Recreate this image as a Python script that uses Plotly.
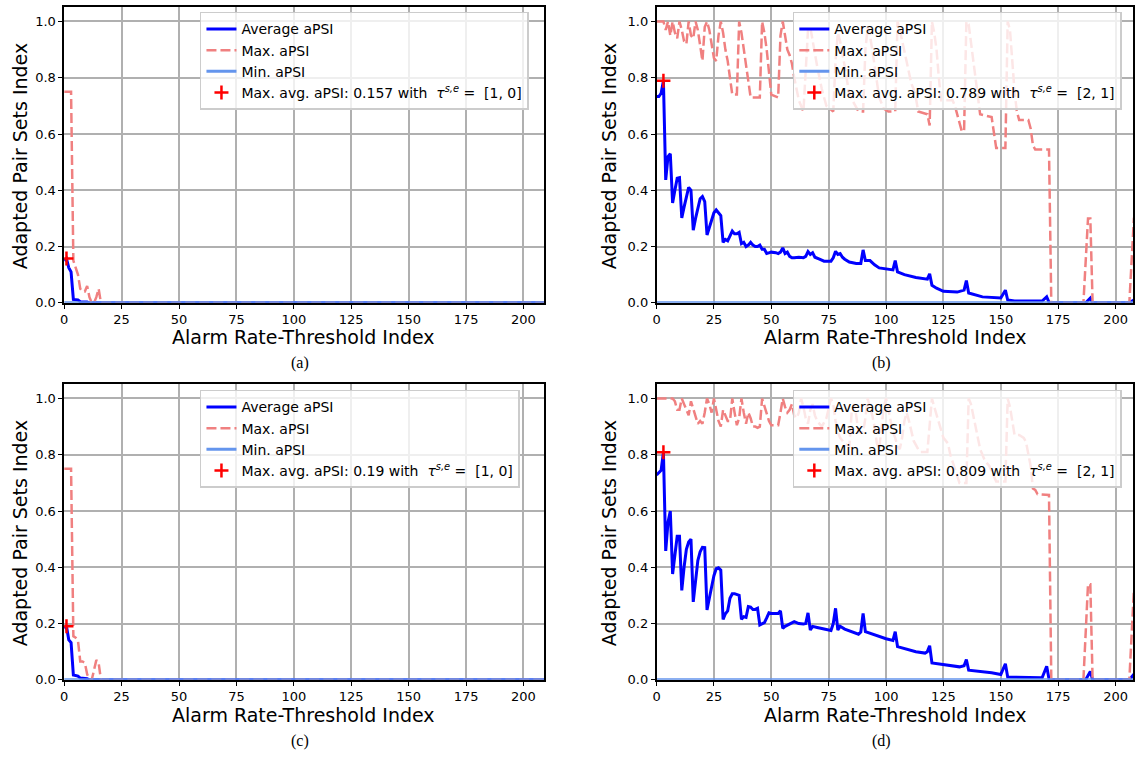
import plotly.graph_objects as go

W, H = 1135, 762

# ---------------- data ----------------
a_avg_x = [0, 1, 2, 3, 4, 5, 6, 7, 10, 11, 209]
a_avg_y = [0.15, 0.157, 0.125, 0.11, 0.012, 0.01, 0.01, 0.004, 0.003, 0.0, 0.0]
a_max_x = [0, 1, 2, 3, 4, 5, 6, 7, 8, 9, 10, 11, 12, 13, 14, 15, 16, 209]
a_max_y = [0.75, 0.75, 0.75, 0.75, 0.15, 0.12, 0.1, 0.05, 0.04, 0.04, 0.06, 0.02, 0.0, 0.0, 0.02, 0.05, 0.0, 0.0]
a_best = (1, 0.157)

c_avg_x = [0, 1, 2, 3, 4, 5, 6, 7, 10, 11, 209]
c_avg_y = [0.183, 0.19, 0.142, 0.132, 0.017, 0.015, 0.013, 0.006, 0.004, 0.0, 0.0]
c_max_x = [0, 1, 2, 3, 4, 5, 6, 7, 8, 9, 10, 11, 12, 13, 14, 15, 16, 209]
c_max_y = [0.75, 0.75, 0.75, 0.75, 0.155, 0.15, 0.14, 0.065, 0.065, 0.06, 0.02, 0.0, 0.0, 0.03, 0.07, 0.06, 0.0, 0.0]
c_best = (1, 0.19)

b_avg_x = [0, 1, 2, 3, 4, 5, 6, 7, 8, 9, 10, 11, 12, 13, 14, 15, 16, 17, 18, 19, 20, 21, 22, 23, 24,
           25, 26, 27, 28, 29, 30, 31, 32, 33, 34, 35, 36, 37, 38, 39, 40, 41, 42, 43, 44, 45, 46, 47,
           48, 49, 50, 52, 53, 54, 55, 56, 57, 58, 59, 60, 62, 64, 65, 66, 67, 68, 69, 71, 73, 76, 77,
           78, 79, 80, 81, 82, 84, 87, 89, 90, 91, 93, 95, 97, 100, 103, 104, 105, 108, 113, 118, 119,
           120, 122, 125, 131, 134, 135, 136, 139, 142, 150, 152, 153, 156, 168, 170, 171, 172, 187,
           189, 190, 206, 208, 209]
b_avg_y = [0.733, 0.733, 0.745, 0.789, 0.437, 0.52, 0.53, 0.355, 0.4, 0.443, 0.445, 0.302, 0.34, 0.38,
           0.41, 0.4, 0.258, 0.3, 0.34, 0.37, 0.378, 0.36, 0.241, 0.27, 0.29, 0.32, 0.33, 0.32, 0.31,
           0.215, 0.225, 0.22, 0.235, 0.255, 0.245, 0.245, 0.25, 0.21, 0.215, 0.2, 0.205, 0.215, 0.205,
           0.2, 0.2, 0.205, 0.19, 0.19, 0.175, 0.178, 0.18, 0.178, 0.175, 0.18, 0.195, 0.175, 0.18,
           0.165, 0.16, 0.16, 0.162, 0.16, 0.165, 0.182, 0.172, 0.178, 0.162, 0.155, 0.148, 0.148, 0.16,
           0.183, 0.172, 0.175, 0.162, 0.155, 0.145, 0.14, 0.14, 0.188, 0.15, 0.15, 0.135, 0.124, 0.12,
           0.117, 0.15, 0.11, 0.1, 0.09, 0.084, 0.103, 0.062, 0.052, 0.041, 0.038, 0.045, 0.079, 0.035,
           0.028, 0.021, 0.017, 0.045, 0.01, 0.006, 0.006, 0.021, 0.002, 0.0, 0.0, 0.017, 0.0, 0.0,
           0.01, 0.012]
b_max_x = [0, 3, 4, 5, 6, 7, 8, 9, 10, 11, 12, 13, 14, 15, 16, 17, 18, 19, 20, 21, 22, 23, 24, 25, 26,
           27, 28, 29, 30, 31, 32, 33, 35, 36, 37, 38, 39, 40, 41, 45, 46, 47, 48, 49, 50, 53, 54, 55,
           56, 57, 58, 59, 60, 61, 62, 64, 65, 66, 67, 68, 69, 70, 71, 72, 74, 77, 78, 79, 80, 81, 82,
           83, 84, 86, 88, 90, 91, 92, 93, 94, 95, 96, 97, 99, 101, 104, 105, 106, 107, 108, 109, 110,
           111, 112, 113, 114, 118, 119, 120, 121, 122, 123, 124, 129, 130, 132, 133, 134, 135, 136,
           137, 138, 139, 140, 141, 146, 147, 148, 152, 153, 154, 155, 156, 157, 158, 162, 163, 164,
           165, 171, 172, 186, 188, 189, 190, 206, 208, 209]
b_max_y = [1.0, 1.0, 0.97, 1.0, 0.95, 1.0, 0.96, 0.94, 1.0, 0.97, 0.93, 0.92, 1.0, 0.95, 0.94, 1.0,
           0.97, 0.92, 0.86, 0.98, 1.0, 0.97, 0.92, 0.87, 0.86, 0.95, 1.0, 0.96, 0.9, 0.86, 0.8, 0.74,
           0.74, 1.0, 0.96, 0.9, 0.84, 0.78, 0.73, 0.73, 1.0, 0.96, 0.9, 0.82, 0.74, 0.73, 0.95, 1.0,
           0.94, 0.9, 0.88, 0.85, 0.8, 0.76, 0.72, 0.68, 0.85, 0.97, 0.98, 0.93, 0.88, 0.84, 0.8, 0.76,
           0.7, 0.68, 0.86, 0.96, 0.93, 0.89, 0.84, 0.79, 0.74, 0.71, 0.68, 0.68, 0.9, 0.98, 0.95, 0.9,
           0.84, 0.78, 0.73, 0.69, 0.68, 0.68, 1.0, 0.97, 0.93, 0.9, 0.86, 0.82, 0.78, 0.76, 0.73, 0.68,
           0.67, 0.63, 1.0, 0.96, 0.9, 0.8, 0.72, 0.72, 0.7, 0.64, 0.61, 0.61, 1.0, 0.99, 0.93, 0.86,
           0.8, 0.74, 0.67, 0.66, 0.6, 0.55, 0.55, 1.0, 0.97, 0.85, 0.75, 0.68, 0.65, 0.65, 0.62, 0.56,
           0.545, 0.545, 0.0, 0.0, 0.3, 0.3, 0.0, 0.0, 0.3, 0.32]
b_best = (3, 0.789)

d_avg_x = [0, 1, 2, 3, 4, 5, 6, 7, 8, 9, 10, 11, 12, 13, 14, 15, 16, 17, 18, 19, 20, 21, 22, 23, 24,
           25, 26, 27, 28, 29, 30, 31, 32, 33, 34, 35, 36, 37, 38, 39, 40, 41, 42, 43, 44, 45, 46, 47,
           48, 49, 50, 52, 53, 54, 55, 56, 57, 58, 60, 62, 64, 65, 66, 67, 68, 70, 73, 76, 77, 78, 79,
           80, 82, 84, 86, 88, 89, 90, 91, 93, 96, 100, 103, 104, 105, 108, 113, 117, 118, 119, 120,
           124, 128, 132, 134, 135, 136, 142, 146, 150, 152, 153, 160, 168, 170, 171, 172, 187, 189,
           190, 206, 208, 209]
d_avg_y = [0.728, 0.735, 0.745, 0.809, 0.458, 0.56, 0.6, 0.376, 0.45, 0.51, 0.51, 0.318, 0.4, 0.464,
           0.49, 0.5, 0.277, 0.36, 0.424, 0.455, 0.471, 0.47, 0.248, 0.29, 0.33, 0.37, 0.395, 0.398,
           0.39, 0.215, 0.235, 0.245, 0.29, 0.306, 0.306, 0.302, 0.3, 0.215, 0.224, 0.222, 0.26, 0.258,
           0.25, 0.25, 0.254, 0.195, 0.2, 0.203, 0.22, 0.238, 0.236, 0.235, 0.236, 0.245, 0.183, 0.19,
           0.195, 0.2, 0.207, 0.2, 0.198, 0.2, 0.238, 0.177, 0.19, 0.186, 0.18, 0.175, 0.2, 0.254,
           0.177, 0.19, 0.18, 0.174, 0.168, 0.162, 0.17, 0.236, 0.171, 0.165, 0.156, 0.146, 0.14, 0.171,
           0.118, 0.112, 0.1, 0.095, 0.1, 0.121, 0.06, 0.055, 0.051, 0.046, 0.05, 0.072, 0.034, 0.03,
           0.025, 0.019, 0.057, 0.01, 0.008, 0.007, 0.048, 0.003, 0.0, 0.0, 0.03, 0.0, 0.0, 0.02, 0.022]
d_max_x = [0, 7, 8, 9, 10, 11, 12, 13, 14, 15, 16, 17, 18, 19, 20, 21, 22, 23, 24, 25, 26, 27, 28, 29,
           30, 31, 32, 33, 34, 35, 36, 37, 38, 39, 40, 41, 42, 43, 44, 45, 46, 47, 48, 49, 50, 53, 54,
           55, 56, 57, 58, 59, 60, 61, 62, 63, 64, 65, 66, 67, 68, 69, 70, 72, 74, 76, 77, 78, 79, 80,
           82, 84, 85, 86, 87, 88, 90, 91, 92, 93, 94, 95, 96, 97, 98, 99, 100, 101, 102, 103, 104, 105,
           106, 107, 108, 109, 110, 111, 112, 114, 115, 118, 119, 120, 121, 122, 123, 124, 125, 127,
           128, 130, 132, 135, 136, 137, 138, 139, 140, 141, 142, 143, 145, 147, 148, 152, 153, 154,
           155, 156, 158, 160, 161, 163, 164, 165, 166, 171, 172, 186, 188, 189, 190, 206, 208, 209]
d_max_y = [1.0, 1.0, 0.99, 0.96, 0.96, 1.0, 0.98, 0.96, 0.94, 0.99, 0.96, 0.93, 0.91, 0.92, 0.91, 0.95,
           1.0, 0.98, 0.95, 1.0, 0.96, 0.92, 0.9, 0.96, 0.94, 0.92, 0.92, 1.0, 0.95, 0.905, 0.93, 1.0,
           0.95, 0.91, 0.95, 0.93, 0.9, 0.9, 0.896, 0.9, 1.0, 0.97, 0.94, 0.92, 0.905, 0.905, 0.95, 1.0,
           0.97, 0.95, 0.96, 0.98, 0.94, 0.93, 0.95, 1.0, 0.97, 0.93, 0.91, 0.96, 0.98, 0.94, 0.92, 0.9,
           0.93, 1.0, 0.98, 0.92, 0.88, 0.86, 0.84, 0.83, 0.95, 0.98, 0.94, 0.88, 0.88, 0.93, 1.0, 0.97,
           0.94, 0.9, 0.84, 0.82, 0.9, 0.97, 1.0, 0.96, 0.92, 0.88, 0.86, 0.83, 0.82, 0.86, 0.92, 0.95,
           0.92, 0.88, 0.85, 0.82, 0.81, 0.81, 0.9, 1.0, 0.97, 0.94, 0.91, 0.88, 0.86, 0.84, 0.8, 0.75,
           0.7, 0.7, 1.0, 0.98, 0.94, 0.9, 0.86, 0.82, 0.8, 0.78, 0.76, 0.72, 0.705, 0.705, 1.0, 0.97,
           0.92, 0.87, 0.87, 0.86, 0.845, 0.76, 0.68, 0.675, 0.66, 0.657, 0.0, 0.0, 0.34, 0.34, 0.0, 0.0,
           0.32, 0.33]
d_best = (3, 0.809)

min_x = [0, 209]
min_y = [0.0, 0.0]

best_labels = ["0.157", "0.789", "0.19", "0.809"]
tau_labels = ["[1, 0]", "[2, 1]", "[1, 0]", "[2, 1]"]
captions = ["(a)", "(b)", "(c)", "(d)"]
x_ticks = [0, 25, 50, 75, 100, 125, 150, 175, 200]
y_ticks = [0.0, 0.2, 0.4, 0.6, 0.8, 1.0]

panels = [
    (a_avg_x, a_avg_y, a_max_x, a_max_y, a_best),
    (b_avg_x, b_avg_y, b_max_x, b_max_y, b_best),
    (c_avg_x, c_avg_y, c_max_x, c_max_y, c_best),
    (d_avg_x, d_avg_y, d_max_x, d_max_y, d_best),
]

# ---------------- geometry (pixels) ----------------
boxes = [
    (60.5, 543.0, 7.5, 306.0, 209.0),
    (656.0, 1135.0, 7.5, 306.0, 207.6),
    (60.5, 543.0, 388.5, 687.0, 209.0),
    (656.0, 1135.0, 388.5, 687.0, 207.6),
]
legend_pos = [(197, 12), (793, 12), (197, 394), (793, 394)]
xtitle_pos = [(301.5, 341), (896.5, 341), (301.5, 723), (896.5, 723)]
ytitle_pos = [(16, 157), (609, 157), (16, 538), (609, 538)]
caption_pos = [(298, 367), (882, 367), (298, 749), (882, 749)]

FONT = "DejaVu Sans"
fig = go.Figure()
layout = dict(width=W, height=H, margin=dict(l=0, r=0, t=0, b=0),
              paper_bgcolor="white", plot_bgcolor="white", showlegend=True)
annotations = []

for i, (ax, ay, mx, my, best) in enumerate(panels):
    n = "" if i == 0 else str(i + 1)
    lg = "legend" if i == 0 else "legend" + str(i + 1)
    xa, ya = "x" + n, "y" + n
    fig.add_trace(go.Scatter(x=ax, y=ay, mode="lines", name="Average aPSI",
                             line=dict(color="#0000ff", width=3), xaxis=xa, yaxis=ya, legend=lg))
    fig.add_trace(go.Scatter(x=mx, y=my, mode="lines", name="Max. aPSI",
                             line=dict(color="#f08080", width=2.5, dash="10px,4px"),
                             xaxis=xa, yaxis=ya, legend=lg))
    fig.add_trace(go.Scatter(x=min_x, y=min_y, mode="lines", name="Min. aPSI",
                             line=dict(color="#6495ed", width=3), xaxis=xa, yaxis=ya, legend=lg))
    lbl = ("Max. avg. aPSI: " + best_labels[i] + " with\u00a0\u00a0<i>τ</i><sup><i>s,e</i></sup>"
           "\u00a0=\u00a0\u00a0" + tau_labels[i])
    fig.add_trace(go.Scatter(x=[best[0]], y=[best[1]], mode="markers", name=lbl,
                             marker=dict(symbol="cross-thin", size=10, color="red",
                                         line=dict(color="red", width=2.5)),
                             xaxis=xa, yaxis=ya, legend=lg))

    L, R, T, B, xr = boxes[i]
    axis_common = dict(showline=True, linecolor="black", linewidth=1.5, mirror=True,
                       showgrid=True, gridcolor="#b0b0b0", gridwidth=2, zeroline=False,
                       ticks="outside", ticklen=4, tickwidth=1.2, tickcolor="black",
                       tickfont=dict(family=FONT, size=13, color="black"))
    layout["xaxis" + n] = dict(domain=[L / W, R / W], range=[0, xr], anchor=ya,
                               tickvals=x_ticks, **axis_common)
    layout["yaxis" + n] = dict(domain=[1 - B / H, 1 - T / H], range=[0, 1.05], anchor=xa,
                               tickvals=y_ticks, tickformat=".1f", **axis_common)
    lx, ly = legend_pos[i]
    layout[lg] = dict(x=lx / W, y=1 - ly / H, xanchor="left", yanchor="top",
                      bgcolor="rgba(255,255,255,0.8)", bordercolor="#cccccc", borderwidth=1.5,
                      font=dict(family=FONT, size=14, color="black"), itemwidth=30)

    tx, ty = xtitle_pos[i]
    annotations.append(dict(text="Alarm Rate-Threshold Index", x=tx / W, y=1 - ty / H,
                            xref="paper", yref="paper", showarrow=False,
                            xanchor="center", yanchor="middle",
                            font=dict(family=FONT, size=19, color="black")))
    yx, yy = ytitle_pos[i]
    annotations.append(dict(text="Adapted Pair Sets Index", x=yx / W, y=1 - yy / H,
                            xref="paper", yref="paper", showarrow=False, textangle=-90,
                            xanchor="center", yanchor="middle",
                            font=dict(family=FONT, size=19, color="black")))
    cx, cy = caption_pos[i]
    annotations.append(dict(text=captions[i], x=cx / W, y=1 - cy / H,
                            xref="paper", yref="paper", showarrow=False,
                            xanchor="center", yanchor="middle",
                            font=dict(family="Liberation Serif", size=16, color="black")))

layout["annotations"] = annotations
fig.update_layout(**layout)
fig.write_html("out.html")
